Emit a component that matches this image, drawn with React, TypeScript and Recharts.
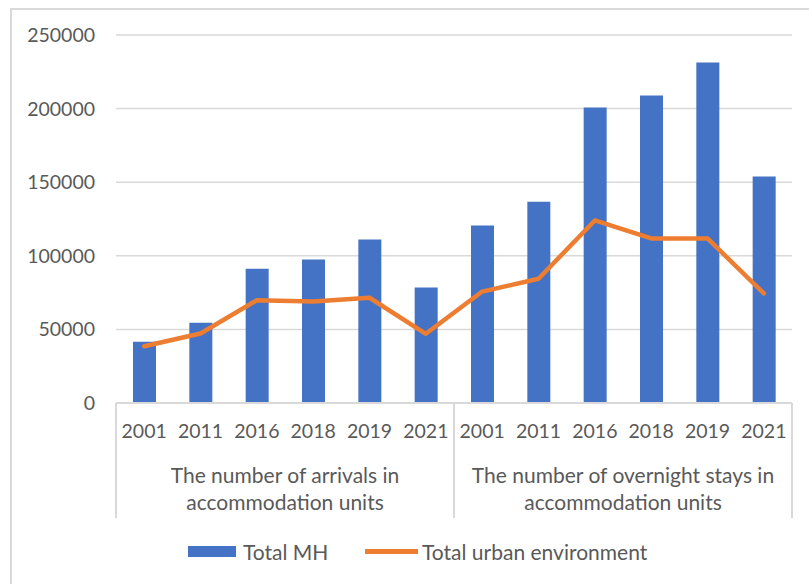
import { ComposedChart, Bar, Line, XAxis, YAxis, CartesianGrid, Legend } from 'recharts';

const years = ['2001', '2011', '2016', '2018', '2019', '2021', '2001', '2011', '2016', '2018', '2019', '2021'];
const totalMH = [41600, 54500, 91200, 97500, 111000, 78500, 120600, 136700, 200700, 208900, 231300, 153900];
const totalUrban = [38600, 47200, 69800, 69000, 71500, 47000, 75700, 84400, 124000, 111800, 111800, 74400];
const groupLabels = [
  ['The number of arrivals in', 'accommodation units'],
  ['The number of overnight stays in', 'accommodation units'],
];
const yTicks = [0, 50000, 100000, 150000, 200000, 250000];
const groupSize = 6;

const data = years.map((year, i) => ({ idx: i, year, mh: totalMH[i], urban: totalUrban[i] }));
// group axis: boundaries at 0,6,12 and label centres at 3,9
const groupTicks = Array.from({ length: groupLabels.length * 2 + 1 }, (_, i) => (i * groupSize) / 2);

const FONT = 'Lato, "Liberation Sans", sans-serif';
const TEXT = '#595959';
const GRID = '#d9d9d9';
const BLUE = '#4472C4';
const ORANGE = '#ED7D31';
const CAT_H = 40;
const GRP_H = 75;

const YearTick = (props: any) => {
  const { x, y, payload } = props;
  return (
    <text x={x} y={y} dy={35} textAnchor="middle" fill={TEXT} fontSize={19.5} fontFamily={FONT}>
      {years[payload.value]}
    </text>
  );
};

const GroupTick = (props: any) => {
  const { x, y, payload } = props;
  const v = payload.value as number;
  if (v % groupSize === 0) {
    return <line x1={x} x2={x} y1={y - CAT_H} y2={y + GRP_H} stroke={GRID} strokeWidth={2} />;
  }
  const lines = groupLabels[Math.floor(v / groupSize)];
  return (
    <text x={x} y={y} textAnchor="middle" fill={TEXT} fontSize={21} fontFamily={FONT}>
      {lines.map((l, i) => (
        <tspan key={i} x={x} dy={i === 0 ? 40 : 27}>
          {l}
        </tspan>
      ))}
    </text>
  );
};

const renderLegend = () => (
  <div style={{ display: 'flex', alignItems: 'center', height: 26, paddingLeft: 188, fontFamily: FONT, fontSize: 21, color: TEXT }}>
    <span style={{ display: 'inline-block', width: 48, height: 11, background: BLUE, marginRight: 7 }} />
    <span style={{ display: 'inline-block', width: 122 }}>Total MH</span>
    <span style={{ display: 'inline-block', width: 53, height: 5, background: ORANGE, marginRight: 4 }} />
    <span>Total urban environment</span>
  </div>
);

export default function App() {
  return (
    <div style={{ position: 'absolute', left: 0, top: 0, width: 809, height: 584, background: '#fff', overflow: 'hidden' }}>
      <div style={{ position: 'absolute', left: 10, top: 8, right: -10, bottom: -10, borderTop: `2px solid ${GRID}`, borderLeft: `2px solid ${GRID}` }} />
      <div style={{ position: 'absolute', left: 0, top: 0 }}>
        <ComposedChart width={809} height={584} data={data} margin={{ top: 35, right: 17, left: 0, bottom: 40 }} barCategoryGap={0}>
          <CartesianGrid xAxisId="cat" vertical={false} stroke={GRID} strokeWidth={1.5} />
          <YAxis
            width={116}
            domain={[0, 250000]}
            ticks={yTicks}
            axisLine={false}
            tickLine={false}
            tickSize={0}
            tickMargin={21}
            tick={{ fill: TEXT, fontSize: 19.5, fontFamily: FONT }}
          />
          <XAxis
            xAxisId="cat"
            dataKey="idx"
            height={CAT_H}
            axisLine={{ stroke: GRID, strokeWidth: 2 }}
            tickLine={false}
            tickSize={0}
            tickMargin={0}
            interval={0}
            tick={<YearTick />}
          />
          <XAxis
            xAxisId="grp"
            dataKey="idx"
            type="number"
            domain={[0, years.length]}
            allowDataOverflow
            ticks={groupTicks}
            height={GRP_H}
            axisLine={false}
            tickLine={false}
            tickSize={0}
            tickMargin={0}
            interval={0}
            tick={<GroupTick />}
          />
          <Bar xAxisId="cat" dataKey="mh" name="Total MH" fill={BLUE} barSize={23} isAnimationActive={false} />
          <Line
            xAxisId="cat"
            dataKey="urban"
            name="Total urban environment"
            type="linear"
            stroke={ORANGE}
            strokeWidth={4.5}
            strokeLinejoin="round"
            strokeLinecap="round"
            dot={false}
            activeDot={false}
            isAnimationActive={false}
          />
          <Legend verticalAlign="bottom" wrapperStyle={{ top: 538, left: 0, width: 809 }} content={renderLegend} />
        </ComposedChart>
      </div>
    </div>
  );
}
